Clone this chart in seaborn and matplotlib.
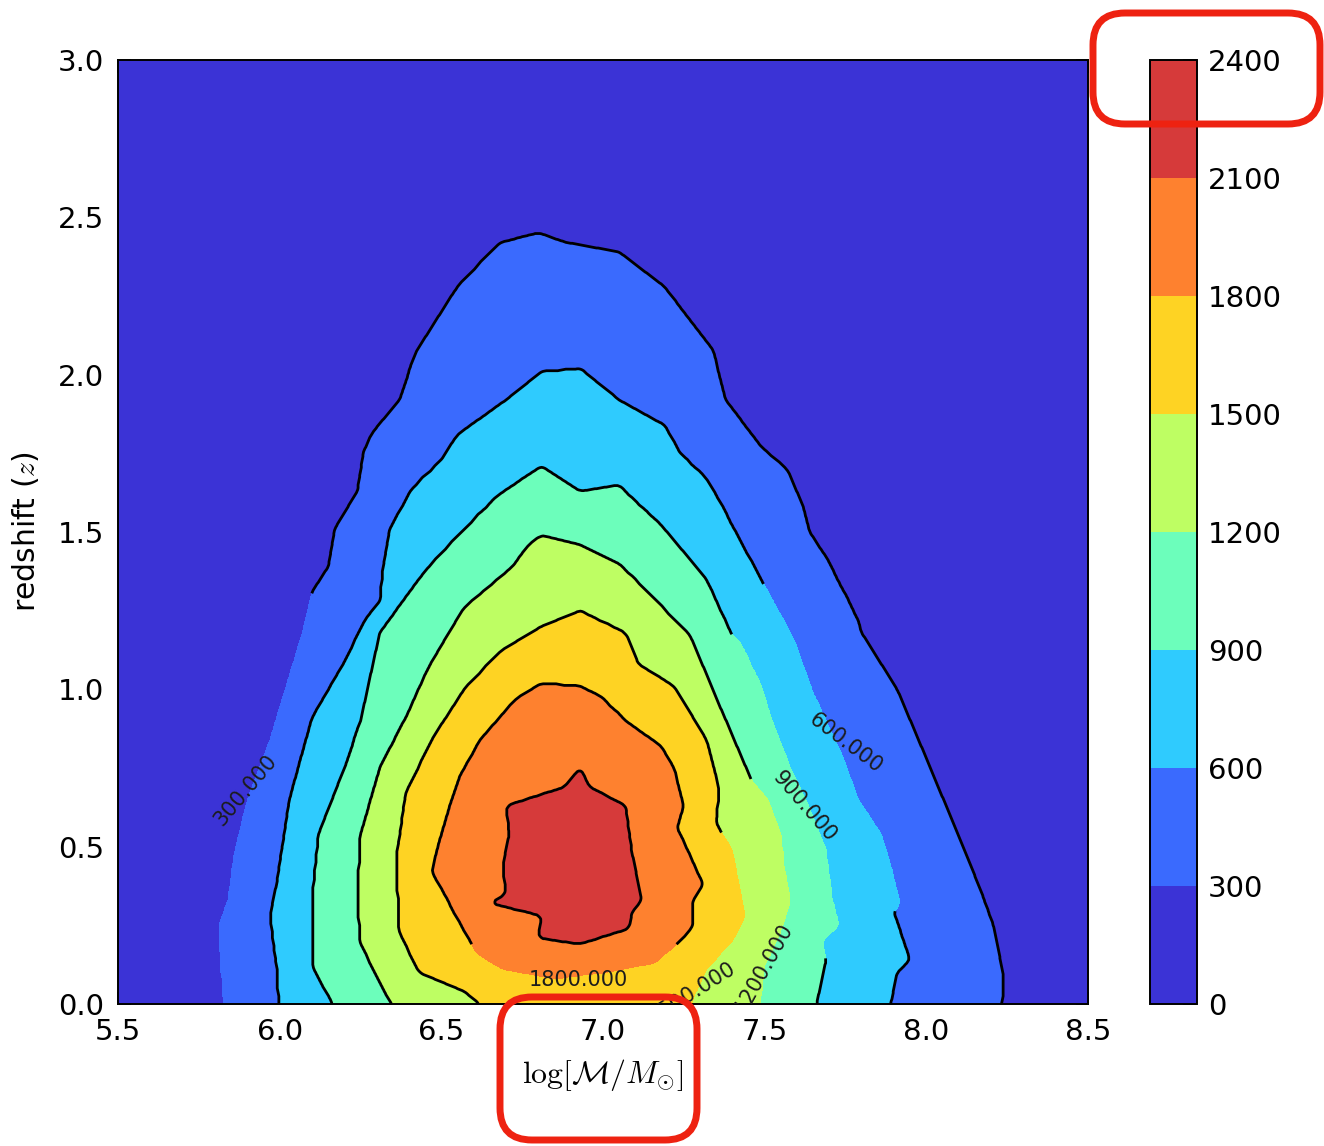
import numpy as np
import matplotlib
matplotlib.use("Agg")
import matplotlib.pyplot as plt
import seaborn as sns
from matplotlib.path import Path
from matplotlib.colors import ListedColormap
from matplotlib.patches import FancyBboxPatch
from matplotlib.transforms import IdentityTransform

# ---------------- data ----------------
LEVELS = [0, 300, 600, 900, 1200, 1500, 1800, 2100, 2400]
COLORS = ["#3b33d6", "#3a6afe", "#2fcbfe", "#6cfebb",
          "#befe63", "#fed323", "#fe812f", "#d63a3a"]
MASS_TICKS = [5.5, 6.0, 6.5, 7.0, 7.5, 8.0, 8.5]
Z_TICKS = [0.0, 0.5, 1.0, 1.5, 2.0, 2.5, 3.0]

# outlines of the regions above each iso-count level (log mass, redshift)
mass_300 = [5.83, 5.81, 5.84, 5.86, 5.90, 5.97, 6.02, 6.07, 6.10, 6.15, 6.17, 6.24, 6.26,
            6.29, 6.37, 6.42, 6.50, 6.55, 6.68, 6.80, 6.89, 7.05, 7.19, 7.34, 7.38, 7.49,
            7.57, 7.62, 7.64, 7.69, 7.79, 7.80, 7.91, 7.98, 8.11, 8.18, 8.21, 8.24, 8.23]
z_300 = [0.00, 0.24, 0.33, 0.48, 0.65, 0.84, 1.01, 1.18, 1.31, 1.39, 1.51, 1.63, 1.76,
         1.82, 1.92, 2.07, 2.20, 2.28, 2.42, 2.45, 2.42, 2.39, 2.28, 2.08, 1.92, 1.77,
         1.70, 1.58, 1.50, 1.42, 1.22, 1.18, 1.00, 0.83, 0.51, 0.33, 0.24, 0.08, 0.00]

mass_600 = [6.00, 5.99, 5.97, 5.99, 6.03, 6.10, 6.19, 6.27, 6.31, 6.32, 6.34, 6.41, 6.50,
            6.55, 6.70, 6.81, 6.93, 7.05, 7.19, 7.24, 7.32, 7.36, 7.40, 7.50, 7.59, 7.65,
            7.74, 7.79, 7.86, 7.89, 7.92, 7.90, 7.95, 7.91, 7.88]
z_600 = [0.00, 0.12, 0.28, 0.38, 0.65, 0.91, 1.07, 1.23, 1.28, 1.39, 1.51, 1.64, 1.73,
         1.81, 1.92, 2.01, 2.02, 1.92, 1.84, 1.75, 1.67, 1.60, 1.52, 1.33, 1.16, 0.99,
         0.79, 0.65, 0.54, 0.44, 0.32, 0.29, 0.14, 0.10, 0.00]

mass_900 = [6.19, 6.10, 6.10, 6.12, 6.20, 6.25, 6.31, 6.43, 6.47, 6.57, 6.68, 6.81, 6.93,
            7.05, 7.19, 7.32, 7.40, 7.42, 7.49, 7.52, 7.58, 7.64, 7.69, 7.71, 7.73, 7.68,
            7.69, 7.65]
z_900 = [0.00, 0.12, 0.33, 0.54, 0.75, 0.90, 1.18, 1.35, 1.40, 1.51, 1.62, 1.71, 1.63,
         1.65, 1.51, 1.35, 1.17, 1.16, 1.01, 0.91, 0.75, 0.62, 0.49, 0.33, 0.25, 0.20,
         0.14, 0.00]

mass_1200 = [6.37, 6.31, 6.25, 6.24, 6.25, 6.31, 6.39, 6.46, 6.57, 6.72, 6.77, 6.81, 6.93,
             7.05, 7.12, 7.27, 7.36, 7.46, 7.51, 7.55, 7.56, 7.58, 7.55, 7.50, 7.48]
z_1200 = [0.00, 0.07, 0.19, 0.33, 0.54, 0.75, 0.91, 1.07, 1.26, 1.39, 1.46, 1.49, 1.46,
          1.40, 1.33, 1.17, 0.95, 0.71, 0.65, 0.54, 0.44, 0.33, 0.23, 0.12, 0.00]

mass_1500 = [6.68, 6.57, 6.43, 6.37, 6.36, 6.39, 6.47, 6.57, 6.68, 6.81, 6.93, 7.07, 7.11,
             7.22, 7.32, 7.36, 7.35, 7.37, 7.40, 7.43, 7.44, 7.40, 7.32, 7.28, 7.27]
z_1500 = [0.00, 0.04, 0.10, 0.23, 0.46, 0.67, 0.84, 1.00, 1.12, 1.20, 1.25, 1.18, 1.08,
          1.01, 0.84, 0.68, 0.58, 0.54, 0.49, 0.33, 0.28, 0.20, 0.11, 0.02, 0.00]

mass_1800 = [6.61, 6.55, 6.51, 6.47, 6.50, 6.52, 6.56, 6.62, 6.73, 6.81, 6.93, 6.99, 7.07,
             7.18, 7.22, 7.25, 7.23, 7.31, 7.28, 7.28, 7.24, 7.16, 7.01, 6.85, 6.69]
z_1800 = [0.16, 0.27, 0.35, 0.42, 0.54, 0.61, 0.73, 0.84, 0.97, 1.02, 1.01, 0.98, 0.90,
          0.82, 0.75, 0.63, 0.56, 0.38, 0.33, 0.25, 0.20, 0.13, 0.10, 0.08, 0.11]

mass_2100 = [6.93, 6.96, 7.07, 7.09, 7.12, 7.09, 7.08, 6.93, 6.80, 6.81, 6.65, 6.70, 6.69,
             6.71, 6.70, 6.88]
z_2100 = [0.75, 0.69, 0.63, 0.48, 0.33, 0.29, 0.24, 0.19, 0.21, 0.28, 0.32, 0.35, 0.44,
          0.54, 0.63, 0.69]

OUTLINES = {300: (mass_300, z_300), 600: (mass_600, z_600), 900: (mass_900, z_900),
            1200: (mass_1200, z_1200), 1500: (mass_1500, z_1500),
            1800: (mass_1800, z_1800), 2100: (mass_2100, z_2100)}

# parts of the contour lines that are not drawn in the reference (x0, x1, z0, z1)
LINE_GAPS = {300: (5.5, 6.6, -0.1, 1.30), 600: (7.0, 8.5, 0.30, 1.33),
             900: (7.0, 8.5, 0.15, 1.17), 1200: (7.0, 8.5, -0.1, 0.71),
             1500: (7.0, 8.5, -0.1, 0.54), 1800: (6.0, 7.6, -0.1, 0.185)}
LABEL_LEVELS = [300, 600, 900, 1200, 1500, 1800]
LABEL_POS = [(5.893, 0.68), (7.749, 0.83), (7.622, 0.626), (7.498, 0.114),
             (7.275, 0.035), (6.923, 0.076)]
LABEL_ROT = [50, -37, -49, 61, 32, 0]

# ---------------- style ----------------
sns.set_style("ticks", {"xtick.direction": "in", "ytick.direction": "in",
                        "axes.edgecolor": "black", "xtick.color": "black",
                        "ytick.color": "black", "text.color": "black",
                        "axes.labelcolor": "black"})
plt.rcParams["font.family"] = ["DejaVu Sans"]
plt.rcParams["mathtext.fontset"] = "cm"

cmap = ListedColormap(sns.color_palette(COLORS))

# ---------------- build the count field from the outlines ----------------
mass_grid = np.linspace(5.5, 8.5, 601)
z_grid = np.linspace(0.0, 3.0, 601)
MM, ZZ = np.meshgrid(mass_grid, z_grid)
pts = np.column_stack([MM.ravel(), ZZ.ravel()])
inside = np.zeros(MM.size)
for lev, (xs, zs) in OUTLINES.items():
    zz = [z if z > 0 else -0.05 for z in zs]
    verts = np.column_stack([xs + [xs[0]], zz + [zz[0]]])
    inside += Path(verts).contains_points(pts)
field = (150.0 + 300.0 * inside).reshape(MM.shape)

# light box smoothing so the marching-squares lines are not stair-stepped
k = 5
kern = np.ones(k) / k
pad = np.pad(field, k // 2, mode="edge")
pad = np.apply_along_axis(lambda r: np.convolve(r, kern, mode="valid"), 1, pad)
pad = np.apply_along_axis(lambda c: np.convolve(c, kern, mode="valid"), 0, pad)
field = pad

# ---------------- figure ----------------
W, H = 1324, 1146
fig = plt.figure(figsize=(W / 100, H / 100), dpi=100)
ax = fig.add_axes([118 / W, 1 - 1004 / H, (1088 - 118) / W, (1004 - 60) / H])
cax = fig.add_axes([1150 / W, 1 - 1004 / H, (1197 - 1150) / W, (1004 - 60) / H])

cf = ax.contourf(MM, ZZ, field, levels=LEVELS, cmap=cmap, vmin=0, vmax=2400)

for lev in LEVELS[1:-1]:
    f = field.copy()
    if lev in LINE_GAPS:
        x0, x1, z0, z1 = LINE_GAPS[lev]
        f[(MM >= x0) & (MM <= x1) & (ZZ >= z0) & (ZZ <= z1)] = np.nan
    ax.contour(MM, ZZ, np.ma.masked_invalid(f), levels=[lev], colors="black",
               linewidths=2.0)

cs_lab = ax.contour(MM, ZZ, field, levels=LABEL_LEVELS, colors="black", linewidths=0)
texts = ax.clabel(cs_lab, levels=LABEL_LEVELS, fmt="%.3f", manual=LABEL_POS,
                  inline=False, fontsize=15, colors="#1c1c1c")
for t, pos, rot in zip(texts, LABEL_POS, LABEL_ROT):
    t.set_position(pos)
    t.set_rotation(rot)

ax.set_xlim(5.5, 8.5)
ax.set_ylim(0.0, 3.0)
ax.set_xticks(MASS_TICKS)
ax.set_yticks(Z_TICKS)
ax.tick_params(direction="in", length=9, width=1.1, labelsize=21, pad=10,
               top=True, right=True, colors="black")
for sp in ax.spines.values():
    sp.set_linewidth(1.4)
    sp.set_color("black")
ax.set_xlabel(r"$\log[\mathcal{M}/M_{\odot}]$", fontsize=23, labelpad=8)
ax.set_ylabel(r"redshift ($z$)", fontsize=21.5, labelpad=12)

cb = fig.colorbar(cf, cax=cax, ticks=LEVELS)
cb.outline.set_linewidth(1.4)
cb.outline.set_edgecolor("black")
cax.tick_params(direction="in", length=10, width=1.1, labelsize=21, pad=8,
                right=True, left=False, colors="black")

# red highlight boxes of the reference
for (x0, y0, x1, y1) in [(1093, 13, 1320, 124), (500, 997, 697, 1140)]:
    box = FancyBboxPatch((x0, H - y1), x1 - x0, y1 - y0,
                         boxstyle="round,pad=0,rounding_size=32",
                         transform=IdentityTransform(), facecolor="none",
                         edgecolor="#ee2211", linewidth=5.0, zorder=10)
    fig.add_artist(box)

fig.savefig("out.png", dpi=100, facecolor="white")
